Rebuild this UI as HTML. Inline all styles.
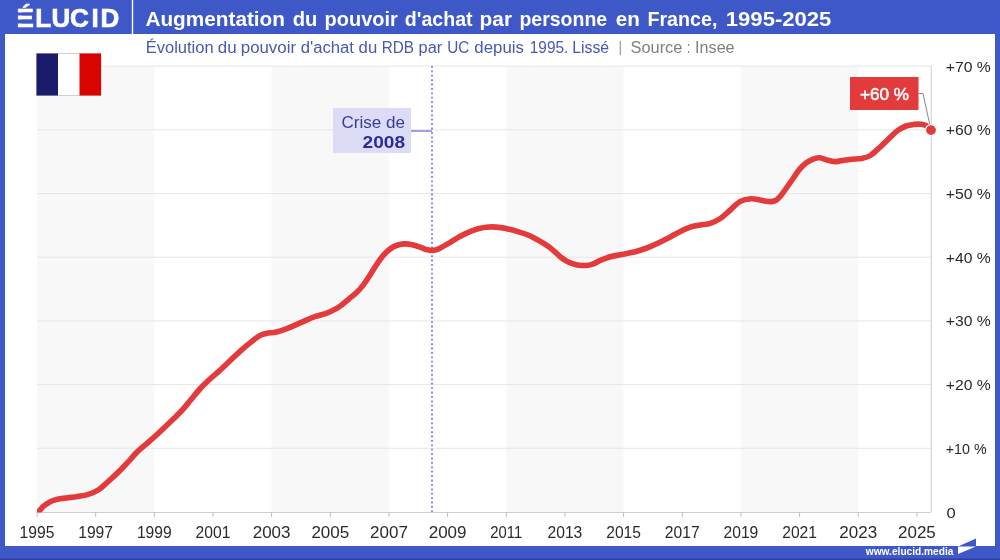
<!DOCTYPE html>
<html lang="fr"><head><meta charset="utf-8"><title>Augmentation du pouvoir d'achat par personne en France, 1995-2025</title>
<style>
html,body{margin:0;padding:0;background:#fff;}
body{width:1000px;height:560px;overflow:hidden;position:relative;font-family:"Liberation Sans",sans-serif;}
svg{position:absolute;left:0;top:0;display:block}
text{font-family:"Liberation Sans",sans-serif;}
.ax{font-size:16px;fill:#2a2a2a;}
.ay{font-size:15.5px;fill:#2a2a2a;}
.logo{font-size:26px;font-weight:bold;fill:#fff;stroke:#fff;stroke-width:0.7px;}
.title{font-size:21px;font-weight:bold;fill:#fff;}
.sub{font-size:16px;fill:#4759b0;}
.src{fill:#808080;}
.ann{font-size:16px;fill:#3a3a9a;}
.annb{font-size:16px;font-weight:bold;fill:#2b2b99;}
.lab{font-size:16px;fill:#fff;stroke:#fff;stroke-width:0.5px;}
.url{font-size:11.5px;font-weight:bold;fill:#fff;}
</style></head><body>
<svg width="1000" height="560" viewBox="0 0 1000 560">
<rect width="1000" height="560" fill="#3e58c7"/>
<rect x="5" y="34" width="990" height="512" fill="#ffffff"/>
<line x1="132.5" x2="132.5" y1="0" y2="34" stroke="#fff" stroke-width="1.4"/>
<!-- logo -->
<text x="16.6 35.2 51.4 70 91.6 100.6" y="27.3" class="logo">ÉLUCID</text>
<rect x="16.5" y="12.5" width="6.5" height="3" fill="#3e58c7"/>
<rect x="16.5" y="19.5" width="6.5" height="4" fill="#3e58c7"/>
<text y="26" class="title"><tspan x="145.4" textLength="139.6" lengthAdjust="spacingAndGlyphs">Augmentation</tspan> <tspan x="292.7" textLength="24.7" lengthAdjust="spacingAndGlyphs">du</tspan> <tspan x="324.6" textLength="73.2" lengthAdjust="spacingAndGlyphs">pouvoir</tspan> <tspan x="404.8" textLength="67.8" lengthAdjust="spacingAndGlyphs">d'achat</tspan> <tspan x="479.6" textLength="32.4" lengthAdjust="spacingAndGlyphs">par</tspan> <tspan x="519.4" textLength="87.8" lengthAdjust="spacingAndGlyphs">personne</tspan> <tspan x="615.7" textLength="24.1" lengthAdjust="spacingAndGlyphs">en</tspan> <tspan x="647.4" textLength="70.0" lengthAdjust="spacingAndGlyphs">France,</tspan> <tspan x="725.8" textLength="105.6" lengthAdjust="spacingAndGlyphs">1995-2025</tspan></text>
<text y="53" class="sub"><tspan x="145.8" textLength="67.8" lengthAdjust="spacingAndGlyphs">Évolution</tspan> <tspan x="217.8" textLength="18.8" lengthAdjust="spacingAndGlyphs">du</tspan> <tspan x="240.8" textLength="55.2" lengthAdjust="spacingAndGlyphs">pouvoir</tspan> <tspan x="300.8" textLength="53.2" lengthAdjust="spacingAndGlyphs">d'achat</tspan> <tspan x="358.6" textLength="18.6" lengthAdjust="spacingAndGlyphs">du</tspan> <tspan x="381.8" textLength="32.2" lengthAdjust="spacingAndGlyphs">RDB</tspan> <tspan x="418.6" textLength="23.6" lengthAdjust="spacingAndGlyphs">par</tspan> <tspan x="447.2" textLength="22.1" lengthAdjust="spacingAndGlyphs">UC</tspan> <tspan x="474.3" textLength="49.6" lengthAdjust="spacingAndGlyphs">depuis</tspan> <tspan x="529.8" textLength="38.6" lengthAdjust="spacingAndGlyphs">1995.</tspan> <tspan x="572.2" textLength="37.0" lengthAdjust="spacingAndGlyphs">Lissé</tspan></text>
<text x="618.6" y="52" class="sub src" style="font-size:14px;fill:#999">|</text>
<text y="53" class="sub src"><tspan x="630.6" textLength="51.8" lengthAdjust="spacingAndGlyphs">Source</tspan> <tspan x="686.8" textLength="3.6" lengthAdjust="spacingAndGlyphs">:</tspan> <tspan x="695.1" textLength="39.5" lengthAdjust="spacingAndGlyphs">Insee</tspan></text>
<!-- plot -->
<rect x="37.0" y="66" width="117.3" height="446" fill="#f8f8f8"/>
<rect x="271.6" y="66" width="117.3" height="446" fill="#f8f8f8"/>
<rect x="506.3" y="66" width="117.3" height="446" fill="#f8f8f8"/>
<rect x="740.9" y="66" width="117.3" height="446" fill="#f8f8f8"/>

<line x1="37" x2="931" y1="448.3" y2="448.3" stroke="#e6e6e6" stroke-width="1"/>
<line x1="37" x2="931" y1="384.6" y2="384.6" stroke="#e6e6e6" stroke-width="1"/>
<line x1="37" x2="931" y1="320.9" y2="320.9" stroke="#e6e6e6" stroke-width="1"/>
<line x1="37" x2="931" y1="257.2" y2="257.2" stroke="#e6e6e6" stroke-width="1"/>
<line x1="37" x2="931" y1="193.5" y2="193.5" stroke="#e6e6e6" stroke-width="1"/>
<line x1="37" x2="931" y1="129.8" y2="129.8" stroke="#e6e6e6" stroke-width="1"/>
<line x1="37" x2="931" y1="66.1" y2="66.1" stroke="#e6e6e6" stroke-width="1"/>

<line x1="37" x2="931" y1="512.5" y2="512.5" stroke="#cfcfcf" stroke-width="1"/>
<line x1="931.3" x2="931.3" y1="66" y2="512" stroke="#dadada" stroke-width="1.4"/>
<line x1="37.0" x2="37.0" y1="512" y2="517" stroke="#bdbdbd" stroke-width="1"/>
<line x1="95.7" x2="95.7" y1="512" y2="517" stroke="#bdbdbd" stroke-width="1"/>
<line x1="154.3" x2="154.3" y1="512" y2="517" stroke="#bdbdbd" stroke-width="1"/>
<line x1="213.0" x2="213.0" y1="512" y2="517" stroke="#bdbdbd" stroke-width="1"/>
<line x1="271.6" x2="271.6" y1="512" y2="517" stroke="#bdbdbd" stroke-width="1"/>
<line x1="330.3" x2="330.3" y1="512" y2="517" stroke="#bdbdbd" stroke-width="1"/>
<line x1="389.0" x2="389.0" y1="512" y2="517" stroke="#bdbdbd" stroke-width="1"/>
<line x1="447.6" x2="447.6" y1="512" y2="517" stroke="#bdbdbd" stroke-width="1"/>
<line x1="506.3" x2="506.3" y1="512" y2="517" stroke="#bdbdbd" stroke-width="1"/>
<line x1="564.9" x2="564.9" y1="512" y2="517" stroke="#bdbdbd" stroke-width="1"/>
<line x1="623.6" x2="623.6" y1="512" y2="517" stroke="#bdbdbd" stroke-width="1"/>
<line x1="682.3" x2="682.3" y1="512" y2="517" stroke="#bdbdbd" stroke-width="1"/>
<line x1="740.9" x2="740.9" y1="512" y2="517" stroke="#bdbdbd" stroke-width="1"/>
<line x1="799.6" x2="799.6" y1="512" y2="517" stroke="#bdbdbd" stroke-width="1"/>
<line x1="858.2" x2="858.2" y1="512" y2="517" stroke="#bdbdbd" stroke-width="1"/>
<line x1="916.9" x2="916.9" y1="512" y2="517" stroke="#bdbdbd" stroke-width="1"/>

<text x="19.6" y="538" class="ax" textLength="34.8" lengthAdjust="spacingAndGlyphs">1995</text>
<text x="78.2" y="538" class="ax" textLength="34.8" lengthAdjust="spacingAndGlyphs">1997</text>
<text x="136.9" y="538" class="ax" textLength="34.8" lengthAdjust="spacingAndGlyphs">1999</text>
<text x="195.6" y="538" class="ax" textLength="34.8" lengthAdjust="spacingAndGlyphs">2001</text>
<text x="252.7" y="538" class="ax" textLength="37.8" lengthAdjust="spacingAndGlyphs">2003</text>
<text x="311.4" y="538" class="ax" textLength="37.8" lengthAdjust="spacingAndGlyphs">2005</text>
<text x="370.1" y="538" class="ax" textLength="37.8" lengthAdjust="spacingAndGlyphs">2007</text>
<text x="428.7" y="538" class="ax" textLength="37.8" lengthAdjust="spacingAndGlyphs">2009</text>
<text x="490.3" y="538" class="ax" textLength="31.9" lengthAdjust="spacingAndGlyphs">2011</text>
<text x="547.5" y="538" class="ax" textLength="34.8" lengthAdjust="spacingAndGlyphs">2013</text>
<text x="606.2" y="538" class="ax" textLength="34.8" lengthAdjust="spacingAndGlyphs">2015</text>
<text x="664.8" y="538" class="ax" textLength="34.8" lengthAdjust="spacingAndGlyphs">2017</text>
<text x="723.5" y="538" class="ax" textLength="34.8" lengthAdjust="spacingAndGlyphs">2019</text>
<text x="782.2" y="538" class="ax" textLength="34.8" lengthAdjust="spacingAndGlyphs">2021</text>
<text x="839.3" y="538" class="ax" textLength="37.8" lengthAdjust="spacingAndGlyphs">2023</text>
<text x="898.0" y="538" class="ax" textLength="37.8" lengthAdjust="spacingAndGlyphs">2025</text>

<text x="946.6" y="517.5" class="ay" textLength="9.2" lengthAdjust="spacingAndGlyphs">0</text>
<text x="945.8" y="453.8" class="ay" textLength="40.8" lengthAdjust="spacingAndGlyphs">+10 %</text>
<text x="945.8" y="390.1" class="ay" textLength="45.0" lengthAdjust="spacingAndGlyphs">+20 %</text>
<text x="945.8" y="326.4" class="ay" textLength="45.0" lengthAdjust="spacingAndGlyphs">+30 %</text>
<text x="945.8" y="262.7" class="ay" textLength="45.0" lengthAdjust="spacingAndGlyphs">+40 %</text>
<text x="945.8" y="199.0" class="ay" textLength="45.0" lengthAdjust="spacingAndGlyphs">+50 %</text>
<text x="945.8" y="135.3" class="ay" textLength="45.0" lengthAdjust="spacingAndGlyphs">+60 %</text>
<text x="945.8" y="71.6" class="ay" textLength="45.0" lengthAdjust="spacingAndGlyphs">+70 %</text>

<!-- flag -->
<rect x="36.5" y="53.5" width="64.5" height="42" fill="#fff" stroke="#cfcfcf" stroke-width="1"/>
<rect x="36.5" y="53.5" width="21.5" height="42" fill="#1b1b6b"/>
<rect x="79.5" y="53.5" width="21.5" height="42" fill="#d90400"/>
<!-- annotation 2008 -->
<line x1="432" x2="432" y1="66" y2="512" stroke="#7d78d0" stroke-width="1.8" stroke-dasharray="1.8 2.6"/>
<rect x="333" y="108" width="78" height="45" fill="#dcdcf6"/>
<line x1="411" x2="432" y1="131" y2="131" stroke="#8f86d6" stroke-width="1.6"/>
<text x="341.5" y="128" class="ann" textLength="63.5" lengthAdjust="spacingAndGlyphs">Crise de</text>
<text x="362.5" y="148" class="annb" textLength="42.5" lengthAdjust="spacingAndGlyphs">2008</text>
<!-- curve -->
<clipPath id="pc"><rect x="37" y="60" width="900" height="452.5"/></clipPath>
<path clip-path="url(#pc)" d="M37.0,512.0 C37.5,511.8 38.7,511.4 39.7,510.5 C40.7,509.6 41.2,508.2 42.8,506.8 C44.3,505.4 46.9,503.5 49.0,502.4 C51.1,501.2 53.2,500.5 55.3,499.9 C57.4,499.3 59.4,499.0 61.5,498.6 C63.6,498.2 65.7,498.1 67.8,497.8 C69.9,497.5 71.9,497.3 74.0,497.0 C76.1,496.7 78.2,496.5 80.3,496.1 C82.4,495.8 84.4,495.4 86.5,494.9 C88.6,494.3 90.7,493.7 92.8,492.8 C94.9,491.9 96.9,490.9 99.0,489.5 C101.1,488.1 103.2,486.0 105.3,484.2 C107.4,482.4 109.4,480.4 111.5,478.5 C113.6,476.6 115.7,474.6 117.8,472.6 C119.9,470.6 121.9,468.5 124.0,466.3 C126.1,464.1 128.2,461.9 130.3,459.6 C132.4,457.3 134.5,454.7 136.6,452.6 C138.7,450.5 140.7,448.8 142.8,447.0 C144.9,445.2 146.2,444.3 149.1,441.7 C152.0,439.1 156.1,435.4 160.3,431.5 C164.5,427.6 170.6,421.6 174.3,418.0 C178.0,414.4 179.6,412.9 182.3,410.0 C185.0,407.1 187.3,404.1 190.3,400.5 C193.3,396.9 197.0,392.1 200.3,388.5 C203.6,384.9 207.0,381.9 210.3,378.8 C213.6,375.7 217.0,373.1 220.3,370.0 C223.6,366.9 227.0,363.6 230.3,360.5 C233.6,357.4 237.0,354.1 240.3,351.1 C243.6,348.1 247.0,345.2 250.3,342.6 C253.6,340.0 257.6,336.9 260.3,335.4 C263.0,333.9 263.6,334.0 266.3,333.4 C269.0,332.8 273.0,332.8 276.3,332.0 C279.6,331.2 283.0,330.0 286.3,328.8 C289.6,327.6 293.0,326.1 296.3,324.6 C299.6,323.2 303.0,321.5 306.3,320.1 C309.6,318.7 313.0,317.3 316.3,316.2 C319.6,315.1 323.0,314.6 326.3,313.3 C329.6,312.0 333.6,310.1 336.3,308.6 C339.0,307.1 340.2,306.0 342.3,304.4 C344.4,302.8 346.7,300.8 349.1,298.8 C351.5,296.8 354.3,294.7 356.6,292.5 C358.9,290.3 360.7,288.3 362.8,285.6 C364.9,282.9 367.1,279.6 369.1,276.5 C371.1,273.4 373.0,270.1 375.0,267.0 C377.0,263.9 379.0,260.8 381.0,258.2 C383.0,255.6 385.1,253.3 387.2,251.4 C389.3,249.5 391.4,248.0 393.5,246.8 C395.6,245.7 397.7,245.0 399.7,244.5 C401.7,244.0 403.4,243.8 405.5,243.9 C407.6,244.0 410.0,244.4 412.2,244.8 C414.4,245.2 416.3,245.8 418.5,246.6 C420.7,247.3 423.7,248.7 425.5,249.3 C427.3,249.9 428.4,250.0 429.5,250.2 C430.6,250.4 431.3,250.4 432.3,250.4 C433.3,250.4 434.2,250.3 435.5,249.9 C436.8,249.5 437.5,249.5 440.0,248.2 C442.5,246.9 446.9,244.3 450.3,242.3 C453.7,240.3 457.0,238.0 460.3,236.2 C463.6,234.4 466.9,232.9 470.0,231.6 C473.1,230.3 476.3,229.2 479.0,228.5 C481.7,227.8 483.8,227.5 486.0,227.2 C488.2,226.9 490.2,226.9 492.4,226.9 C494.6,226.9 496.0,227.0 499.0,227.4 C502.0,227.8 506.8,228.7 510.3,229.5 C513.9,230.3 517.3,231.5 520.3,232.4 C523.2,233.3 525.4,233.9 528.0,235.0 C530.6,236.1 533.3,237.5 536.0,238.9 C538.7,240.3 541.4,242.0 544.1,243.7 C546.8,245.4 549.4,247.1 552.1,249.3 C554.8,251.5 557.5,254.6 560.2,256.7 C562.9,258.8 565.5,260.7 568.2,262.0 C570.9,263.3 573.8,264.1 576.2,264.7 C578.6,265.3 580.6,265.4 582.6,265.5 C584.6,265.6 586.4,265.5 588.3,265.2 C590.2,264.9 592.0,264.4 594.0,263.6 C596.0,262.8 597.6,261.5 600.3,260.4 C603.0,259.3 607.0,257.8 610.3,256.8 C613.6,255.9 617.0,255.4 620.3,254.7 C623.6,254.0 627.0,253.6 630.3,252.8 C633.6,252.1 637.0,251.2 640.3,250.2 C643.6,249.2 647.0,248.0 650.3,246.6 C653.6,245.2 657.0,243.6 660.3,242.0 C663.6,240.4 667.0,238.8 670.3,237.0 C673.6,235.2 677.0,233.0 680.3,231.4 C683.6,229.8 687.0,228.3 690.3,227.2 C693.6,226.1 697.0,225.7 700.3,225.0 C703.6,224.3 707.0,224.4 710.3,223.3 C713.6,222.2 717.0,220.7 720.3,218.5 C723.6,216.3 727.0,212.8 730.3,210.0 C733.6,207.2 736.8,203.3 740.3,201.4 C743.8,199.5 747.7,198.9 751.0,198.7 C754.3,198.5 757.5,199.6 760.0,200.0 C762.5,200.4 764.1,200.9 766.0,201.2 C767.9,201.5 769.8,201.8 771.5,201.6 C773.2,201.4 775.0,200.9 776.5,200.0 C778.0,199.1 779.1,197.7 780.5,196.0 C781.9,194.3 783.1,192.7 785.0,190.0 C786.9,187.3 789.6,183.4 792.0,180.0 C794.4,176.6 797.2,172.2 799.5,169.4 C801.8,166.6 803.8,164.7 806.0,163.0 C808.2,161.3 810.2,160.2 812.5,159.3 C814.8,158.4 816.9,157.7 819.5,157.8 C822.1,158.0 825.2,159.6 828.0,160.2 C830.8,160.8 833.3,161.6 836.0,161.6 C838.7,161.6 841.3,160.6 844.0,160.2 C846.7,159.8 849.0,159.5 852.0,159.2 C855.0,158.9 859.0,159.0 862.0,158.4 C865.0,157.8 867.3,157.4 870.3,155.5 C873.3,153.6 876.7,150.2 880.0,147.2 C883.3,144.2 887.0,140.3 890.0,137.5 C893.0,134.7 895.3,132.2 898.0,130.3 C900.7,128.4 903.3,127.0 906.0,126.0 C908.7,125.0 911.4,124.7 914.0,124.4 C916.6,124.1 919.4,124.0 921.4,124.2 C923.4,124.4 924.6,124.7 926.2,125.7 C927.8,126.7 930.2,129.4 931.0,130.1" fill="none" stroke="#e33a3c" stroke-width="5.6" stroke-linecap="round" stroke-linejoin="round"/>
<polyline points="918.5,93.5 923,93.5 930.5,128" fill="none" stroke="#5f6b75" stroke-width="0.8"/>
<circle cx="931" cy="130.1" r="5.5" fill="#e33a3c" stroke="#fff" stroke-width="1.2"/>
<rect x="850" y="77" width="68.5" height="33" fill="#e33a3c"/>
<text x="860" y="100" class="lab" textLength="49" lengthAdjust="spacingAndGlyphs">+60 %</text>
<!-- footer -->
<rect x="0" y="558.5" width="1000" height="1.5" fill="#323e9f"/>
<text x="865.8" y="554.6" class="url" textLength="87.6" lengthAdjust="spacingAndGlyphs">www.elucid.media</text>
<polygon points="958,546.5 976,538.5 976,546.5" fill="#3e58c7"/>
<polygon points="958,546.5 976,546.5 958,554" fill="#fff"/>
</svg>
</body></html>
